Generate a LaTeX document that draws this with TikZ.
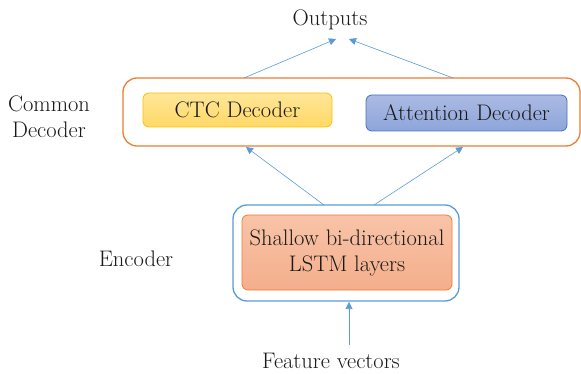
\documentclass[tikz,border=0pt]{standalone}
\usetikzlibrary{arrows.meta,calc}
\definecolor{arrowblue}{HTML}{5B9BD5}
\definecolor{decorange}{HTML}{ED7D31}
\definecolor{encblue}{HTML}{5B9BD5}
\definecolor{ctcfillA}{HTML}{FFE699}
\definecolor{ctcfillB}{HTML}{FFD966}
\definecolor{ctcline}{HTML}{FFC000}
\definecolor{attfillA}{HTML}{ABBAE3}
\definecolor{attfillB}{HTML}{8EA5DA}
\definecolor{attline}{HTML}{4472C4}
\definecolor{lstmfillA}{HTML}{F8C4A8}
\definecolor{lstmfillB}{HTML}{F4AE8C}
\begin{document}
\begin{tikzpicture}[x=1pt,y=-1pt,
  lbl/.style={font=\fontsize{22.5}{26}\selectfont, text=black!90, align=center, inner sep=0pt},
  outerbox/.style={draw, line width=1.3pt, rounded corners=14pt},
  innerbox/.style={draw, line width=0.8pt, rounded corners=6pt, font=\fontsize{22.5}{26}\selectfont, text=black!90, align=center},
  conn/.style={draw=arrowblue, line width=0.6pt, -{Triangle[length=7pt,width=7pt]}}]
\useasboundingbox (0,0) rectangle (581,374);
% common decoder
\node[outerbox, draw=decorange, minimum width=457pt, minimum height=68pt] (dec) at (351.5,112) {};
\node[innerbox, draw=ctcline, top color=ctcfillA, bottom color=ctcfillB, minimum width=189pt, minimum height=34pt] (ctc) at (237.5,110) {CTC Decoder};
\node[innerbox, draw=attline, top color=attfillA, bottom color=attfillB, minimum width=201pt, minimum height=36pt] (att) at (466.5,113) {Attention Decoder};
\node[lbl] (declbl) at (49,117) {Common\\Decoder};
% encoder
\node[outerbox, draw=encblue, minimum width=226pt, minimum height=96pt] (enc) at (346,253) {};
\node[innerbox, draw=decorange, top color=lstmfillA, bottom color=lstmfillB, minimum width=210pt, minimum height=75pt] (lstm) at (347,252.5) {Shallow bi-directional\\LSTM layers};
\node[lbl] (enclbl) at (136,259) {Encoder};
% texts
\node[lbl] (out) at (330,20) {Outputs};
\node[lbl] (feat) at (331,361) {Feature vectors};
% connector end points
\coordinate (d1) at (244,78);
\coordinate (d2) at (453,78);
\coordinate (o1) at (336,39);
\coordinate (o2) at (349,39);
\coordinate (e1) at (324,205);
\coordinate (e2) at (374,205);
\coordinate (t1) at (246,147);
\coordinate (t2) at (463,147);
\coordinate (f1) at (349,345);
\coordinate (f2) at (349,302);
\draw[conn] (d1) -- (o1);
\draw[conn] (d2) -- (o2);
\draw[conn] (e1) -- (t1);
\draw[conn] (e2) -- (t2);
\draw[conn] (f1) -- (f2);
\end{tikzpicture}
\end{document}
